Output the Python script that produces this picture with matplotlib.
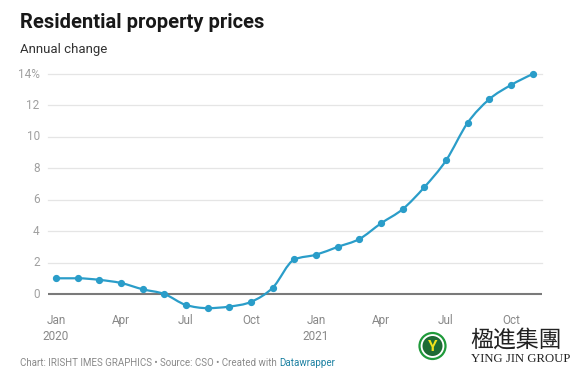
import numpy as np
import matplotlib
matplotlib.use('Agg')
import matplotlib.pyplot as plt
from matplotlib.path import Path
from matplotlib.patches import PathPatch, Circle

plt.rcParams['font.family'] = ['Roboto', 'DejaVu Sans']

# annual change in residential property prices, Jan 2020 - Nov 2021
values = [1.0, 1.0, 0.9, 0.7, 0.3, 0.0, -0.7, -0.9, -0.8, -0.5, 0.4, 2.2,
          2.5, 3.0, 3.5, 4.5, 5.4, 6.8, 8.5, 10.9, 12.4, 13.3, 14.0]
tick_pos = [0, 3, 6, 9, 12, 15, 18, 21]
tick_labels = ['Jan\n2020', 'Apr', 'Jul', 'Oct', 'Jan\n2021', 'Apr', 'Jul', 'Oct']
y_ticks = [0, 2, 4, 6, 8, 10, 12, 14]
y_labels = ['0', '2', '4', '6', '8', '10', '12', '14%']

blue = '#2a9dc9'

x = np.arange(len(values))
y = np.array(values)


def monotone_path(x, y):
    # monotone cubic curve (like d3.curveMonotoneX) as bezier segments
    h = np.diff(x)
    s = np.diff(y) / h
    n = len(x)
    t = np.zeros(n)
    for i in range(1, n - 1):
        s0, s1 = s[i - 1], s[i]
        p = (s0 * h[i] + s1 * h[i - 1]) / (h[i - 1] + h[i])
        t[i] = (np.sign(s0) + np.sign(s1)) * min(abs(s0), abs(s1), 0.5 * abs(p))
    t[0] = (3 * s[0] - t[1]) / 2 if n > 2 else s[0]
    t[-1] = (3 * s[-1] - t[-2]) / 2 if n > 2 else s[-1]
    verts = [(x[0], y[0])]
    codes = [Path.MOVETO]
    for i in range(n - 1):
        d = h[i] / 3
        verts += [(x[i] + d, y[i] + d * t[i]),
                  (x[i + 1] - d, y[i + 1] - d * t[i + 1]),
                  (x[i + 1], y[i + 1])]
        codes += [Path.CURVE4] * 3
    return Path(verts, codes)


fig = plt.figure(figsize=(5.8, 3.79), dpi=100)
ax = fig.add_axes([0.0828, 0.1828, 0.8517, 0.6219])

for v in y_ticks[1:]:
    ax.axhline(v, color='#e5e5e5', lw=0.9, zorder=0, clip_on=False)
ax.axhline(0, color='#7a7a7a', lw=1.5, zorder=1)

ax.add_patch(PathPatch(monotone_path(x, y), fill=False, ec=blue, lw=1.6,
                       zorder=3, clip_on=False))
ax.plot(x, y, 'o', color=blue, ms=4.2, zorder=4, clip_on=False)

ax.set_xlim(-0.37, 22.43)
ax.set_ylim(-1.0, 14)
ax.set_yticks(y_ticks)
ax.set_yticklabels(y_labels)
ax.set_xticks(tick_pos)
ax.set_xticklabels(tick_labels, linespacing=1.3)
ax.tick_params(axis='y', length=0, pad=6, labelsize=8.5, labelcolor='#a0a0a0')
ax.tick_params(axis='x', length=0, pad=3, labelsize=8.5, labelcolor='#888888')
for lab in ax.get_yticklabels():
    lab.set_verticalalignment('center')
for sp in ax.spines.values():
    sp.set_visible(False)

fig.text(20 / 580, 1 - 22 / 379, 'Residential property prices', fontsize=14.5,
         fontweight='bold', color='#181818', va='center')
fig.text(20 / 580, 1 - 50 / 379, 'Annual change', fontsize=9.5,
         color='#333333', va='center')

t1 = fig.text(20 / 580, 1 - 363 / 379,
              'Chart: IRISHT IMES GRAPHICS \u2022 Source: CSO \u2022 Created with ',
              fontsize=7, color='#8a8a8a', va='center')
fig.canvas.draw()
bb = t1.get_window_extent()
fig.text(bb.x1 / 580, 1 - 363 / 379, 'Datawrapper', fontsize=7,
         color='#1d81a2', va='center')

# watermark logo
lax = fig.add_axes([0, 0, 1, 1], facecolor='none')
lax.set_xlim(0, 580)
lax.set_ylim(379, 0)
lax.axis('off')
lax.add_patch(Circle((432.5, 346), 13, fc='white', ec='#1f9a3a', lw=1.6))
lax.add_patch(Circle((432.5, 346), 10, fc='#1e6b34', ec='none'))
lax.text(432.5, 347, 'Y', fontsize=11, fontweight='bold', color='#f2e21c',
         ha='center', va='center')
lax.text(470, 340, '楹進集團', fontsize=16.5, color='#222222', va='center',
         family=['Noto Sans CJK SC', 'DejaVu Sans'])
lax.text(471, 359.5, 'YING JIN GROUP', fontsize=9.2, color='#222222', va='center',
         family=['Liberation Serif', 'DejaVu Serif'])

fig.savefig('out.png', dpi=100, facecolor='white')
